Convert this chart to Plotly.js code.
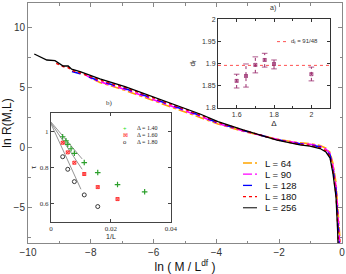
<!DOCTYPE html>
<html><head><meta charset="utf-8">
<script src="https://cdn.plot.ly/plotly-3.0.1.min.js"></script>
<style>html,body{margin:0;padding:0;background:#fff}#chart{width:346px;height:274px}</style>
</head><body><div id="chart"></div>
<script>
// ---- main panel: ln R(M,L) vs ln(M/L^df)
const seriesLabels = ['L = 64', 'L = 90', 'L = 128', 'L = 180', 'L = 256'];
const x64 = [-7.90,-7.71,-6.91,-5.80,-4.52,-3.95,-3.15,-2.07,-1.34,-1.02,-0.70,-0.51,-0.38,-0.29,-0.19,-0.14,-0.10,-0.04];
const y64 = [5.62,5.38,4.72,3.67,2.50,1.92,1.31,0.66,0.34,0.28,0.13,-0.10,-0.45,-1.35,-3.00,-4.60,-6.20,-8.60];
const x90 = [-8.20,-7.97,-7.71,-6.91,-5.80,-4.52,-3.95,-3.15,-2.07,-1.34,-1.02,-0.70,-0.51,-0.38,-0.29,-0.19,-0.14,-0.10,-0.06];
const y90 = [6.05,5.70,5.44,4.80,3.75,2.57,1.96,1.34,0.64,0.30,0.23,0.07,-0.18,-0.56,-1.55,-3.30,-5.10,-6.80,-8.60];
const x128 = [-8.60,-8.34,-7.97,-7.71,-6.91,-5.80,-4.52,-3.95,-3.15,-2.07,-1.34,-1.02,-0.70,-0.51,-0.38,-0.29,-0.19,-0.14,-0.08];
const y128 = [6.30,6.10,5.74,5.50,4.87,3.83,2.63,2.01,1.37,0.62,0.26,0.18,0.01,-0.25,-0.68,-1.75,-3.60,-5.70,-8.60];
const x180 = [-9.10,-8.88,-8.72,-8.61,-8.34,-7.97,-7.71,-6.91,-5.80,-4.52,-3.95,-3.15,-2.07,-1.34,-1.02,-0.70,-0.51,-0.38,-0.29,-0.19,-0.14,-0.10];
const y180 = [6.97,6.70,6.62,6.40,6.18,5.82,5.58,4.95,3.90,2.69,2.06,1.40,0.60,0.22,0.13,-0.06,-0.33,-0.80,-1.95,-3.90,-6.30,-8.60];
const x256 = [-9.80,-9.40,-9.14,-8.88,-8.72,-8.61,-8.34,-7.97,-7.71,-6.91,-5.80,-4.52,-3.95,-3.15,-2.07,-1.34,-1.02,-0.70,-0.51,-0.38,-0.29,-0.19,-0.14,-0.12];
const y256 = [7.75,7.25,7.19,6.75,6.75,6.48,6.28,5.92,5.67,5.03,3.97,2.75,2.11,1.42,0.58,0.17,0.08,-0.13,-0.42,-0.92,-2.17,-4.17,-6.92,-8.60];

// ---- inset a: d_f vs Delta
const deltaA = [1.6, 1.65, 1.7, 1.75, 1.8, 2.0];
const dfVal  = [1.861, 1.872, 1.897, 1.908, 1.899, 1.876];
const dfLo   = [1.845, 1.847, 1.879, 1.892, 1.888, 1.861];
const dfHi   = [1.876, 1.899, 1.915, 1.923, 1.908, 1.892];
const dfExact = 91 / 48;
const dfLineX = [1.5, 2.1];

// ---- inset b: tau vs 1/L
const invL140 = [0.0039, 0.0050, 0.0056, 0.0067, 0.0078, 0.0111, 0.0156, 0.0222, 0.03125];
const tau140  = [0.969, 0.947, 0.927, 0.903, 0.878, 0.827, 0.772, 0.706, 0.666];
const invL160 = [0.0039, 0.0056, 0.0078, 0.0111, 0.0156, 0.0222];
const tau160  = [0.936, 0.883, 0.826, 0.764, 0.692, 0.626];
const invL180 = [0.0039, 0.0056, 0.0078, 0.0111, 0.0156];
const tau180  = [0.859, 0.790, 0.722, 0.649, 0.585];
const fitX140 = [0, 0.0104], fitY140 = [1.050, 0.847];
const fitX160 = [0, 0.0104], fitY160 = [1.045, 0.790];
const fitX180 = [0, 0.0100], fitY180 = [1.040, 0.680];

const purple = '#9b2d6e';
const styles = [
  {color:'#ffa500', dash:'dashdot'},
  {color:'#ff00ff', dash:'dashdot'},
  {color:'#0000ff', dash:'dash'},
  {color:'#ff0000', dash:'dot'},
  {color:'#000000', dash:'solid'}
];
const X = [x64, x90, x128, x180, x256], Y = [y64, y90, y128, y180, y256];

const traces = [];
for (let i = 0; i < 5; i++) {
  traces.push({x: X[i], y: Y[i], mode:'lines', name: seriesLabels[i], showlegend:false,
    line:{color: styles[i].color, dash: styles[i].dash, width: i === 4 ? 1.3 : 1.6}, xaxis:'x', yaxis:'y'});
}
// inset a
traces.push({x: dfLineX, y: [dfExact, dfExact], mode:'lines', showlegend:false,
  line:{color:'#ff5050', dash:'dot', width:1}, xaxis:'x2', yaxis:'y2'});
const ebx = [], eby = [];
for (let i = 0; i < deltaA.length; i++) { ebx.push(deltaA[i], deltaA[i], null); eby.push(dfLo[i], dfHi[i], null); }
traces.push({x: ebx, y: eby, mode:'lines', showlegend:false, line:{color:purple, dash:'dot', width:1}, xaxis:'x2', yaxis:'y2'});
traces.push({x: deltaA.concat(deltaA), y: dfLo.concat(dfHi), mode:'markers', showlegend:false,
  marker:{symbol:'line-ew', size:4, line:{color:purple, width:0.8}}, xaxis:'x2', yaxis:'y2'});
traces.push({x: deltaA, y: dfVal, mode:'markers', showlegend:false,
  marker:{symbol:'square-x-open', size:3, color:purple, line:{color:purple, width:0.8}}, xaxis:'x2', yaxis:'y2'});
// inset b
[[fitX140, fitY140],[fitX160, fitY160],[fitX180, fitY180]].forEach(f => {
  traces.push({x: f[0], y: f[1], mode:'lines', showlegend:false, line:{color:'#666', width:0.7}, xaxis:'x3', yaxis:'y3'});
});
traces.push({x: invL140, y: tau140, mode:'markers', showlegend:false,
  marker:{symbol:'cross-thin-open', size:4, line:{color:'#22dd22', width:1.2}}, xaxis:'x3', yaxis:'y3'});
traces.push({x: invL160, y: tau160, mode:'markers', showlegend:false,
  marker:{symbol:'square-x-open', size:3, color:'#ff2020', line:{color:'#ff2020', width:0.9}}, xaxis:'x3', yaxis:'y3'});
traces.push({x: invL180, y: tau180, mode:'markers', showlegend:false,
  marker:{symbol:'circle-open', size:4, color:'#222', line:{color:'#222', width:0.9}}, xaxis:'x3', yaxis:'y3'});

const F = 'Liberation Sans, Arial, sans-serif';
const tickCol = '#333';
function ax(o) {
  return Object.assign({showgrid:false, zeroline:false, showline:true, linecolor:'#888', linewidth:1,
    mirror:'ticks', ticks:'inside', ticklen:4, tickcolor:'#888', tickfont:{family:F, size:10, color:tickCol}}, o);
}

const legendRowsY = [0.3333, 0.2867, 0.24, 0.1933, 0.1467];
const shapes = [], annotations = [];
for (let i = 0; i < 5; i++) {
  shapes.push({type:'line', xref:'paper', yref:'paper', x0:0.6847, x1:0.7293, y0:legendRowsY[i], y1:legendRowsY[i],
    line:{color: styles[i].color, dash: styles[i].dash, width: i === 4 ? 1 : 1.3}});
  annotations.push({xref:'paper', yref:'paper', x:0.748, y:legendRowsY[i], xanchor:'left', yanchor:'middle',
    text: seriesLabels[i], showarrow:false, font:{family:F, size:9.5, color:'#111'}});
}
// inset a legend
shapes.push({type:'line', xref:'paper', yref:'paper', x0:0.793, x1:0.822, y0:0.839, y1:0.839, line:{color:'#ff5050', dash:'dot', width:1}});
annotations.push({xref:'paper', yref:'paper', x:0.83, y:0.839, xanchor:'left', yanchor:'middle', showarrow:false,
  text:'d<sub>f</sub> = 91/48', font:{family:F, size:6, color:'#333'}});
annotations.push({xref:'paper', yref:'paper', x:0.780, y:0.979, xanchor:'center', yanchor:'middle', showarrow:false,
  text:'a)', font:{family:F, size:7, color:'#333'}});
annotations.push({xref:'paper', yref:'paper', x:0.261, y:0.583, xanchor:'center', yanchor:'middle', showarrow:false,
  text:'b)', font:{family:'Liberation Serif, serif', size:7, color:'#333'}});
// inset b legend
const bLeg = [['+','#22dd22','Δ = 1.40',0.478],['⊠','#ff2020','Δ = 1.60',0.448],['o','#222','Δ = 1.80',0.419]];
bLeg.forEach(r => {
  annotations.push({xref:'paper', yref:'paper', x:0.309, y:r[3], xanchor:'center', yanchor:'middle', showarrow:false,
    text:r[0], font:{family:F, size:6, color:r[1]}});
  annotations.push({xref:'paper', yref:'paper', x:0.341, y:r[3], xanchor:'left', yanchor:'middle', showarrow:false,
    text:r[2], font:{family:'Liberation Serif, serif', size:6, color:'#222'}});
});

const layout = {
  width:346, height:274, margin:{l:28, r:4, t:3, b:31}, paper_bgcolor:'#fff', plot_bgcolor:'#fff', showlegend:false,
  xaxis: ax({range:[-10,0], tick0:0, dtick:2, minor:{dtick:1, ticks:'inside', ticklen:2.5, tickcolor:'#888'},
    title:{text:'ln ( M / L<sup>df</sup> )', font:{family:F, size:12, color:'#111'}, standoff:3}}),
  yaxis: ax({range:[-8,12], tick0:0, dtick:5, minor:{dtick:2.5, ticks:'inside', ticklen:2.5, tickcolor:'#888'},
    title:{text:'ln R(M,L)', font:{family:F, size:12, color:'#111'}, standoff:4}}),
  xaxis2: ax({domain:[0.605,0.962], anchor:'y2', range:[1.5,2.1], tick0:0, dtick:0.2, linecolor:'#333', tickcolor:'#333', ticklen:3,
    minor:{dtick:0.1, ticks:'inside', ticklen:2, tickcolor:'#333'}, tickfont:{family:F, size:7, color:tickCol},
    title:{text:'Δ', font:{family:F, size:8, color:'#222'}, standoff:2}}),
  yaxis2: ax({domain:[0.5625,0.933], anchor:'x2', range:[1.8,2.0], tick0:0, dtick:0.05, linecolor:'#333', tickcolor:'#333', ticklen:3,
    tickfont:{family:F, size:7, color:tickCol},
    title:{text:'d<sub>f</sub>', font:{family:F, size:8, color:'#222'}, standoff:5}}),
  xaxis3: ax({domain:[0.0732,0.455], anchor:'y3', range:[0,0.04], tick0:0, dtick:0.02, linecolor:'#444', tickcolor:'#444', ticklen:3,
    tickfont:{family:'Liberation Serif, serif', size:7, color:tickCol},
    title:{text:'1/L', font:{family:F, size:7, color:'#222'}, standoff:1}}),
  yaxis3: ax({domain:[0.0875,0.542], anchor:'x3', range:[0.5,1.1], tick0:0, dtick:0.2, linecolor:'#444', tickcolor:'#444', ticklen:3,
    tickfont:{family:'Liberation Serif, serif', size:7, color:tickCol},
    title:{text:'τ', font:{family:'Liberation Serif, serif', size:8, color:'#222'}, standoff:2}}),
  shapes: shapes, annotations: annotations
};
Plotly.newPlot('chart', traces, layout, {staticPlot:true, displayModeBar:false});
</script></body></html>
